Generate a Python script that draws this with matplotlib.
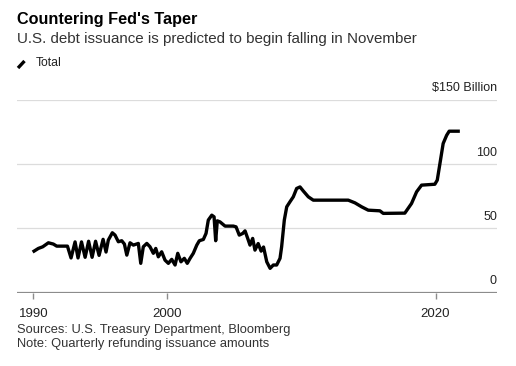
import matplotlib
matplotlib.use("Agg")
import matplotlib.pyplot as plt
import matplotlib.transforms as mtransforms
from matplotlib.lines import Line2D

plt.rcParams['font.family'] = ['Liberation Sans', 'DejaVu Sans']

# quarterly refunding issuance, $ billion
years = [1990.05, 1990.37, 1990.70, 1991.12, 1991.49, 1991.74, 1992.24, 1992.54,
         1992.81, 1993.11, 1993.33, 1993.59, 1993.86, 1994.12, 1994.38, 1994.64,
         1994.90, 1995.20, 1995.42, 1995.59, 1995.89, 1996.09, 1996.34, 1996.59,
         1996.79, 1996.97, 1997.21, 1997.46, 1997.83, 1998.01, 1998.20, 1998.46,
         1998.70, 1998.95, 1999.13, 1999.32, 1999.57, 1999.82, 2000.07, 2000.32,
         2000.57, 2000.77, 2001.01, 2001.26, 2001.48, 2001.69, 2001.93, 2002.19,
         2002.38, 2002.68, 2002.88, 2003.05, 2003.31, 2003.48, 2003.60, 2003.72,
         2003.92, 2004.30, 2004.92, 2005.12, 2005.36, 2005.62, 2005.79, 2005.99,
         2006.16, 2006.36, 2006.53, 2006.77, 2006.99, 2007.17, 2007.41, 2007.66,
         2007.90, 2008.15, 2008.40, 2008.52, 2008.72, 2008.90, 2009.14, 2009.39,
         2009.64, 2009.89, 2010.13, 2010.51, 2010.88, 2013.49, 2013.99, 2014.49,
         2014.98, 2015.85, 2016.10, 2017.71, 2018.21, 2018.59, 2018.96, 2019.95,
         2020.13, 2020.33, 2020.57, 2020.83, 2021.02, 2021.69]
total = [32.3, 34.4, 35.7, 38.8, 37.8, 36.2, 36.2, 36.2,
         27.0, 39.5, 27.0, 39.5, 27.5, 40.0, 27.5, 40.0,
         29.0, 41.5, 31.6, 40.9, 46.6, 44.8, 39.6, 40.4,
         37.8, 29.2, 38.8, 37.0, 38.3, 22.8, 35.7, 38.3,
         35.7, 30.6, 34.4, 27.9, 31.8, 25.3, 22.8, 25.9,
         21.5, 30.6, 24.0, 26.7, 22.8, 26.7, 30.6, 37.0,
         40.4, 41.4, 46.1, 56.5, 60.3, 59.0, 40.4, 55.9,
         55.1, 51.8, 51.8, 51.2, 44.8, 46.1, 48.1, 42.2,
         37.0, 42.2, 33.1, 38.2, 32.3, 35.5, 24.0, 18.9,
         21.5, 21.5, 26.7, 35.7, 56.5, 66.8, 70.7, 74.6,
         81.1, 82.3, 79.2, 74.6, 72.0, 72.0, 69.9, 66.8,
         64.2, 63.7, 61.7, 61.9, 69.4, 78.5, 83.7, 84.4,
         87.6, 100.5, 116.1, 122.5, 125.7, 125.7]

x_ticks = [1990, 2000, 2020]
y_ticks = [0, 50, 100, 150]
y_labels = ['0', '50', '100', '$150 Billion']

fig = plt.figure(figsize=(5.16, 3.66), dpi=100)
ax = fig.add_axes([0.033, 0.2005, 0.930, 0.5263])

ax.plot(years, total, color='black', lw=2.4, solid_joinstyle='round', zorder=3)

ax.set_xlim(1988.78, 2024.58)
ax.set_ylim(0, 150)

for v in y_ticks[1:]:
    ax.axhline(v, color='#dcdcdc', lw=0.9, zorder=1)
ax.axhline(0, color='#8c8c8c', lw=1.6, zorder=2)

for sp in ax.spines.values():
    sp.set_visible(False)
ax.set_yticks([])
ax.set_xticks(x_ticks)
ax.set_xticklabels([str(t) for t in x_ticks], fontsize=9.5, color='#222222')
ax.tick_params(axis='x', length=4, width=1, color='#8c8c8c', pad=7)

trans = mtransforms.blended_transform_factory(ax.transAxes, ax.transData)
for v, lab in zip(y_ticks, y_labels):
    ax.annotate(lab, xy=(1.0, v), xycoords=trans, xytext=(0, 4),
                textcoords='offset points', ha='right', va='bottom',
                fontsize=9, color='#222222')

fig.text(0.0335, 1 - 19.5 / 366, "Countering Fed's Taper", fontsize=11.7,
         fontweight='bold', va='center', ha='left', color='black')
fig.text(0.0335, 1 - 39.5 / 366,
         "U.S. debt issuance is predicted to begin falling in November",
         fontsize=10.9, va='center', ha='left', color='#333333')

# legend: short slanted stroke + label
fig.add_artist(Line2D([18 / 516, 24.5 / 516], [1 - 68 / 366, 1 - 61 / 366],
                      color='black', lw=2.4, solid_capstyle='butt'))
fig.text(36 / 516, 1 - 63.5 / 366, "Total", fontsize=8.8, va='center', ha='left',
         color='#222222')

fig.text(0.0335, 1 - 329.5 / 366, "Sources: U.S. Treasury Department, Bloomberg",
         fontsize=9.3, va='center', ha='left', color='#333333')
fig.text(0.0335, 1 - 343.5 / 366, "Note: Quarterly refunding issuance amounts",
         fontsize=9.3, va='center', ha='left', color='#333333')

fig.savefig("out.png", dpi=100, facecolor='white')
